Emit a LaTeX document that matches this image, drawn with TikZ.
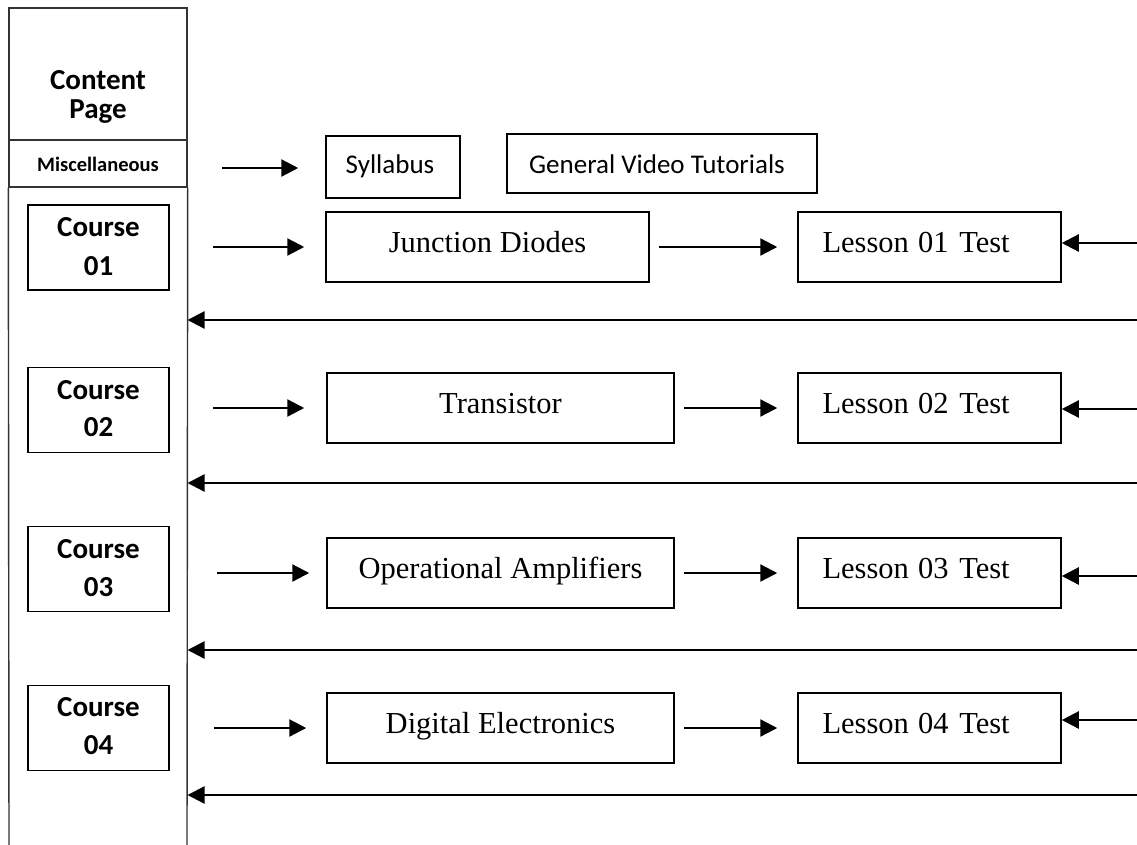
\documentclass[tikz,border=0pt]{standalone}
\usepackage{fontspec}
\setmainfont{Liberation Serif}
\newfontfamily\carl{Carlito}
\usetikzlibrary{arrows.meta}

\begin{document}
\begin{tikzpicture}[x=1pt,y=-1pt,
  frame/.style={draw, line width=1.5pt, inner sep=0pt},
  colline/.style={draw=black!80, line width=1.4pt},
  arr/.style={line width=2.3pt, -{Triangle[length=17pt,width=17pt]}},
  headtxt/.style={anchor=base, font=\carl\bfseries\fontsize{29}{34}\selectfont},
  misctxt/.style={anchor=base, font=\carl\bfseries\fontsize{20.5}{24}\selectfont},
  cattxt/.style={anchor=base, font=\carl\fontsize{27}{32}\selectfont},
  lessontxt/.style={anchor=base, font=\fontsize{30.5}{36}\selectfont},
]
\useasboundingbox (0,0) rectangle (1137,844);

% left column: heading cells and the open body
\node[frame, colline, minimum width=178, minimum height=132] (content) at (98,74) {};
\node[frame, colline, minimum width=178, minimum height=47] (misc) at (98,163.5) {};
\draw[colline] (misc.south west) -- (9,850);
\draw[colline] (misc.south east) -- (187,850);
\coordinate (colR) at (187.5,0);

\node[headtxt] (contentA) at (98,89) {Content};
\node[headtxt] (contentB) at (98,118) {Page};
\node[misctxt] (miscT) at (98,171.5) {Miscellaneous};

% miscellaneous row
\node[frame, minimum width=134, minimum height=62] (syl) at (393,167) {};
\node[cattxt] (sylT) at (390,173) {Syllabus};
\node[frame, minimum width=310, minimum height=59] (gvt) at (662,163.5) {};
\node[cattxt] (gvtT) at (657,173) {General Video Tutorials};
\coordinate (mA) at (222,168);
\draw[arr] (mA) -- ([xshift=-27pt]syl.west |- mA);

% course rows
\foreach \i/\num/\cy/\ba/\bb/\my/\mw/\mx/\title/\ly/\ry/\rin/\cs/\ms in {
  1/01/247.5/236.7/275/247/323/487.5/Junction Diodes/247/320/243/43/21,
  2/02/410/399.3/436.7/408/347/500.5/Transistor/408/483/409/43/22,
  3/03/569/558.3/596/573/347/500.5/Operational Amplifiers/573/650/576/47/17,
  4/04/728/716.7/754/728/347/500.5/Digital Electronics/728/795/720/44/20}
{
  \node[frame, minimum width=141, minimum height=85] (c\i) at (98.5,\cy) {};
  \node[headtxt] (c\i a) at (98.5,\ba) {Course};
  \node[headtxt] (c\i b) at (98.5,\bb) {\num};

  \node[frame, minimum width=\mw, minimum height=70] (m\i) at (\mx,\my) {};
  \node[lessontxt] (m\i t) at (\mx,\my+5) {\title};

  \node[frame, minimum width=263, minimum height=70] (l\i) at (929.5,\ly) {};
  \node[lessontxt, anchor=base west] (l\i t) at (819,\ly+5) {Lesson\hspace{0.3em}\num\hspace{0.35em}Test};

  \draw[arr, shorten <=\cs pt, shorten >=\ms pt] (c\i.east |- m\i.west) -- (m\i.west);
  \draw[arr, shorten <=9pt, shorten >=20pt] (m\i.east) -- (l\i.west);

  \coordinate (in\i) at (1137,\rin);
  \draw[arr] (in\i) -- (l\i.east |- in\i);

  \coordinate (back\i) at (1137,\ry);
  \draw[arr] (back\i) -- (colR |- back\i);
}
\end{tikzpicture}
\end{document}
